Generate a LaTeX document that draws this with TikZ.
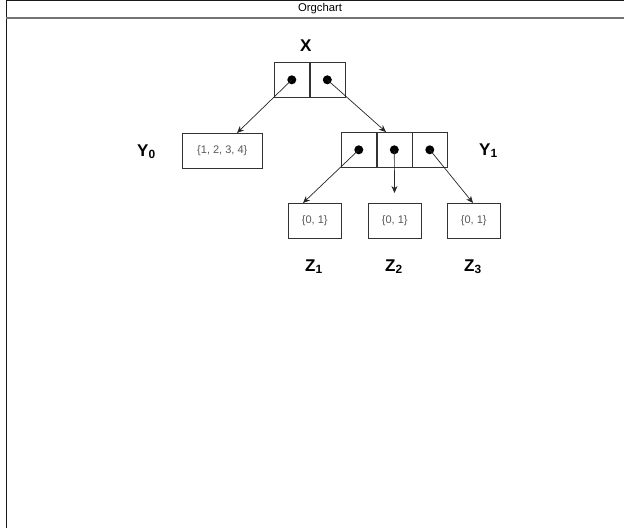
\documentclass[tikz,border=0pt]{standalone}
\usepackage{fontspec}
\setmainfont{Liberation Sans}
\usetikzlibrary{arrows.meta}
\begin{document}
\begin{tikzpicture}[x=1pt,y=-1pt,
  cell/.style={draw=black!80,line width=0.6pt,minimum width=35pt,minimum height=35pt,inner sep=0pt},
  setbox/.style={draw=black!80,line width=0.6pt,inner sep=0pt,text=black!65,font=\fontsize{11}{12}\selectfont},
  dot/.style={circle,fill=black,inner sep=0pt,minimum size=9pt},
  lbl/.style={font=\fontsize{17}{19}\selectfont\bfseries,inner sep=0pt,anchor=base west},
  arr/.style={-{Stealth[length=7pt,width=6pt]},line width=0.7pt,draw=black!85}]
\useasboundingbox (0,0) rectangle (624,528);
\fill[white] (0,0) rectangle (624,528);
% frame
\draw[line width=1pt,black!90] (6,528) -- (6,0.5) -- (624,0.5);
\draw[line width=1.2pt,black!55] (6,18) -- (624,18);
\node[font=\fontsize{11.3}{12}\selectfont] (title) at (320,9) {Orgchart};
% X
\node[cell,anchor=north west] (x1) at (274,62) {};
\node[cell,anchor=north west] (x2) at (309.5,62) {};
\node[dot] (xd1) at (x1.center) {};
\node[dot] (xd2) at (x2.center) {};
\node[lbl] (xl) at (300,51) {X};
% Y0
\node[setbox,minimum width=80pt,minimum height=35pt,anchor=north west] (y0) at (182,133) {\{1, 2, 3, 4\}};
\node[lbl] (y0l) at (137,156) {Y\textsubscript{0}};
% Y1
\node[cell,anchor=north west] (y1a) at (341,132) {};
\node[cell,anchor=north west] (y1b) at (376.5,132) {};
\node[cell,anchor=north west] (y1c) at (412,132) {};
\node[dot] (yd1) at (y1a.center) {};
\node[dot] (yd2) at (y1b.center) {};
\node[dot] (yd3) at (y1c.center) {};
\node[lbl] (y1l) at (479,155) {Y\textsubscript{1}};
% Z
\node[setbox,minimum width=53pt,minimum height=35pt,anchor=north west] (z1) at (288,203) {\{0, 1\}};
\node[setbox,minimum width=53pt,minimum height=35pt,anchor=north west] (z2) at (368,203) {\{0, 1\}};
\node[setbox,minimum width=53pt,minimum height=35pt,anchor=north west] (z3) at (447,203) {\{0, 1\}};
\node[lbl] (z1l) at (305,271) {Z\textsubscript{1}};
\node[lbl] (z2l) at (385,271) {Z\textsubscript{2}};
\node[lbl] (z3l) at (464,271) {Z\textsubscript{3}};
% arrows
\coordinate (z2t) at (394.5,193);
\draw[arr] (xd1.center) -- (y0.north -| 237,0);
\draw[arr] (xd2.center) -- (386,132);
\draw[arr] (yd1.center) -- (303,203);
\draw[arr] (yd2.center) -- (z2t);
\draw[arr] (yd3.center) -- (473,203);
\end{tikzpicture}
\end{document}
